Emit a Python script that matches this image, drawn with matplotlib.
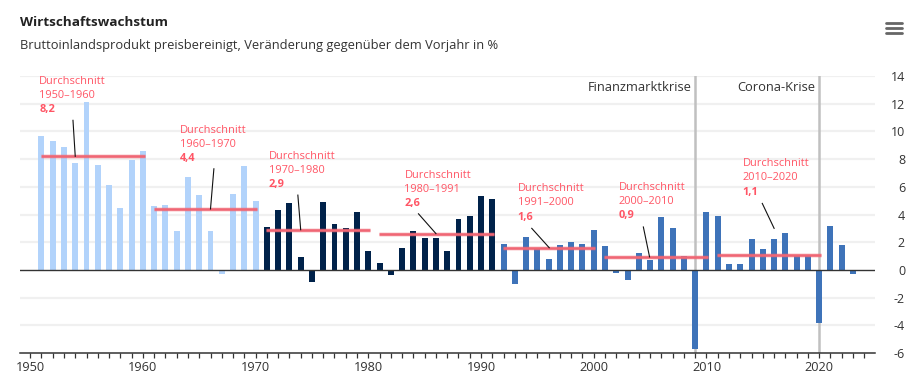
import numpy as np
import matplotlib
matplotlib.use('Agg')
import matplotlib.pyplot as plt
from matplotlib.ticker import MultipleLocator

plt.rcParams['font.family'] = ['Open Sans', 'DejaVu Sans']
plt.rcParams['axes.unicode_minus'] = False

# Wachstum des BIP in % gegenüber Vorjahr, 1951-2023
years = list(range(1951, 2024))
growth = [9.7, 9.3, 8.9, 7.7, 12.1, 7.6, 6.1, 4.5, 7.9, 8.6,
          4.6, 4.7, 2.8, 6.7, 5.4, 2.8, -0.3, 5.5, 7.5, 5.0,
          3.1, 4.3, 4.8, 0.9, -0.9, 4.9, 3.3, 3.0, 4.2, 1.4,
          0.5, -0.4, 1.6, 2.8, 2.3, 2.3, 1.4, 3.7, 3.9, 5.3,
          5.1, 1.9, -1.0, 2.4, 1.5, 0.8, 1.8, 2.0, 1.9, 2.9,
          1.7, -0.2, -0.7, 1.2, 0.7, 3.8, 3.0, 1.0, -5.7, 4.2,
          3.9, 0.4, 0.4, 2.2, 1.5, 2.2, 2.7, 1.0, 1.1, -3.8,
          3.2, 1.8, -0.3]

# Durchschnitte je Zeitraum
avg_start = [1950, 1960, 1970, 1980, 1991, 2000, 2010]
avg_end = [1960, 1970, 1980, 1991, 2000, 2010, 2020]
avg_value = [8.2, 4.4, 2.9, 2.6, 1.6, 0.9, 1.1]
avg_text = ['8,2', '4,4', '2,9', '2,6', '1,6', '0,9', '1,1']
# Textposition (Jahr, Wert) und Verbindungslinie
label_pos = [(1950.8, 13.6), (1963.25, 10.1), (1971.15, 8.2), (1983.2, 6.85),
             (1993.25, 5.85), (2002.2, 5.95), (2013.2, 7.65)]
conn_from = [(1953.8, 10.8), (1966.3, 7.3), (1973.75, 5.4), (1984.45, 4.05),
             (1994.5, 3.0), (2004.4, 3.1), (2014.95, 4.8)]
conn_to = [(1954.0, 8.2), (1966.0, 4.4), (1974.0, 2.9), (1986.0, 2.62),
           (1996.05, 1.6), (2004.95, 0.94), (2016.0, 3.0)]

crisis_year = [2009, 2020]
crisis_name = ['Finanzmarktkrise', 'Corona-Krise']

def bar_color(y):
    if y <= 1970:
        return '#b2d3fb'
    if y <= 1991:
        return '#00224a'
    return '#3e73b9'

fig = plt.figure(figsize=(9.21, 3.83), dpi=100)
ax = fig.add_axes([20/921, 1-353/383, 855/921, 277/383])

ax.bar(years, growth, width=0.53, color=[bar_color(y) for y in years], zorder=3)

ax.set_xlim(1949.1, 2024.95)
ax.set_ylim(-6, 14)

# grid
for v in range(-4, 15, 2):
    if v != 0:
        ax.axhline(v, color='#f0f0f0', lw=1.6, zorder=0)
ax.axhline(0, color='#333333', lw=1.0, zorder=4)

# crisis lines
for cy, name in zip(crisis_year, crisis_name):
    ax.axvline(cy, color='#c0c0c0', lw=1.8, zorder=1)
    ax.text(cy - 0.35, 13.2, name, ha='right', va='center', fontsize=9.3, color='#333333')

# averages
red = '#f06674'
for i in range(len(avg_value)):
    x0 = avg_start[i] + 0.95
    x1 = avg_end[i] + 0.15
    ax.plot([x0, x1], [avg_value[i], avg_value[i]], color=red, lw=3.4, alpha=0.22,
            solid_capstyle='butt', zorder=5)
    ax.plot([x0, x1], [avg_value[i], avg_value[i]], color=red, lw=1.9,
            solid_capstyle='butt', zorder=6)
    ax.plot([conn_from[i][0], conn_to[i][0]], [conn_from[i][1], conn_to[i][1]],
            color='#111111', lw=0.8, zorder=7)
    lx, ly = label_pos[i]
    ax.annotate('Durchschnitt', (lx, ly), fontsize=7.9, color='#ff5565', va='center')
    ax.annotate(f'{avg_start[i]}–{avg_end[i]}', (lx, ly), xytext=(0, -10.1),
                textcoords='offset points', fontsize=7.9, color='#ff5565', va='center')
    ax.annotate(avg_text[i], (lx, ly), xytext=(0, -20.3),
                textcoords='offset points', fontsize=7.9, color='#ff5565',
                va='center', fontweight='bold')

# axes styling
for s in ['top', 'left', 'right']:
    ax.spines[s].set_visible(False)
ax.spines['bottom'].set_color('#333333')
ax.spines['bottom'].set_linewidth(1.1)
ax.set_xticks(range(1950, 2030, 10))
ax.xaxis.set_minor_locator(MultipleLocator(1))
ax.tick_params(axis='x', which='both', length=3.8, width=0.9, color='#333333',
               labelsize=9.2, labelcolor='#333333', pad=2)
ax.yaxis.tick_right()
ax.set_yticks(range(-6, 15, 2))
ax.tick_params(axis='y', length=0, pad=21.6, labelsize=9.0, labelcolor='#333333')
for lab in ax.get_yticklabels():
    lab.set_horizontalalignment('right')

fig.text(20/921, 1-22/383, 'Wirtschaftswachstum', fontsize=9.7, fontweight='bold',
         color='#222222', va='center')
fig.text(20/921, 1-45/383, 'Bruttoinlandsprodukt preisbereinigt, Veränderung gegenüber dem Vorjahr in %',
         fontsize=9.25, color='#333333', va='center')

# menu icon
for yy in [23, 28, 33]:
    fig.add_artist(plt.Line2D([886/921, 902/921], [1-yy/383, 1-yy/383],
                              color='#666666', lw=2.0, solid_capstyle='round'))

fig.savefig('out.png', dpi=100)
